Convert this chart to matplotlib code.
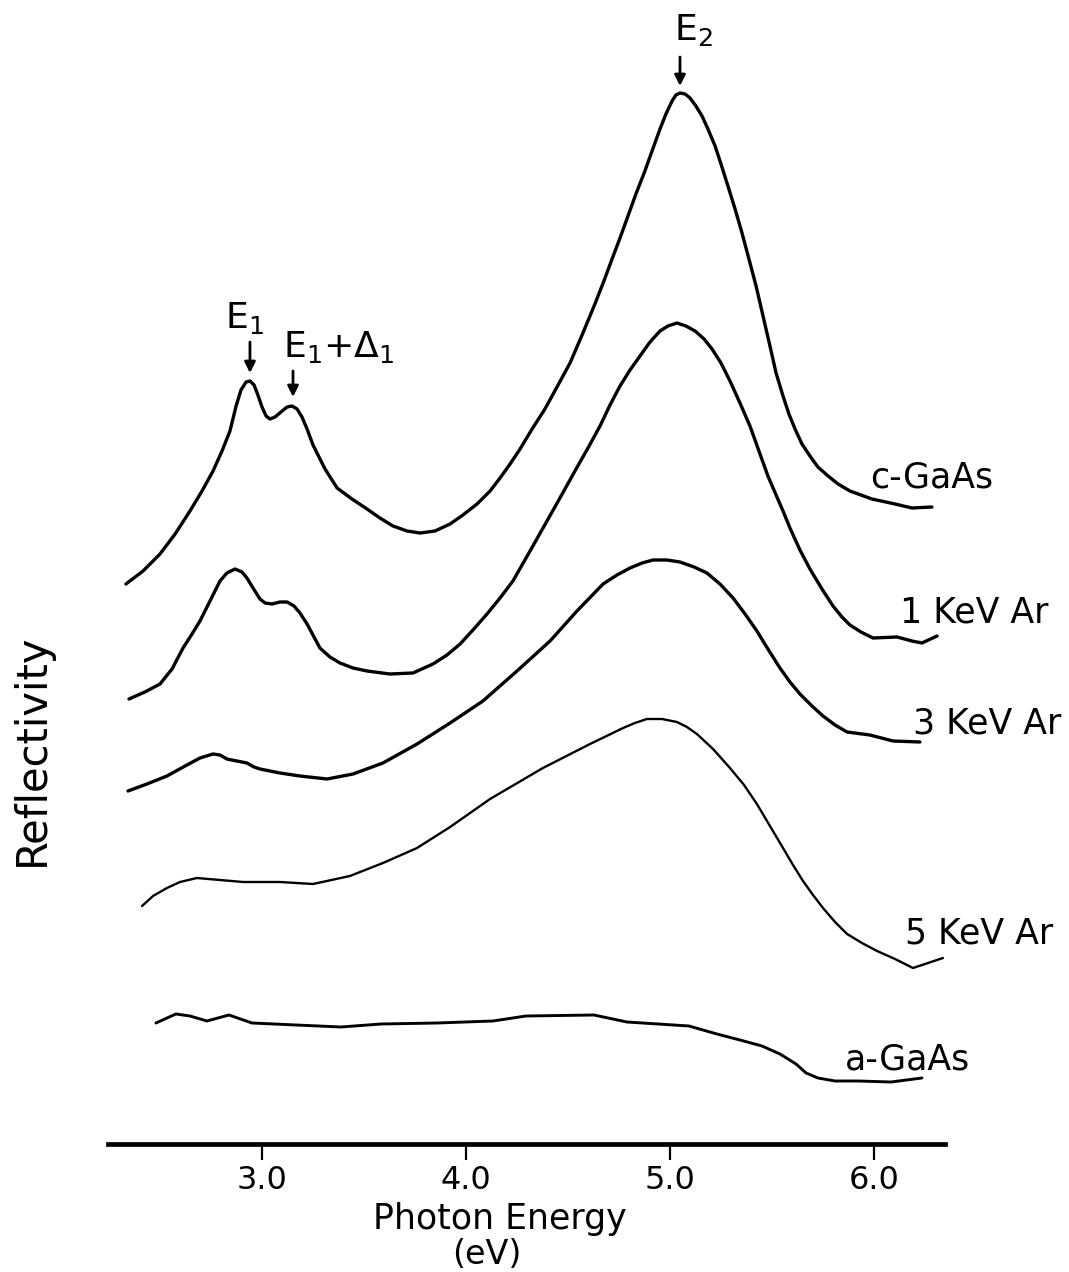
import matplotlib
matplotlib.use("Agg")
import matplotlib.pyplot as plt

plt.rcParams["font.family"] = ["DejaVu Sans"]
plt.rcParams["mathtext.default"] = "regular"

# Photon energy (eV) and reflectivity (arb. units, curves offset vertically)
c_gaas_e = [2.333, 2.417, 2.500, 2.574, 2.647, 2.706, 2.760, 2.804, 2.843, 2.873, 2.897, 2.922,
            2.941, 2.961, 2.980, 3.000, 3.020, 3.039, 3.064, 3.093, 3.123, 3.147, 3.172, 3.196,
            3.221, 3.250, 3.309, 3.368, 3.441, 3.515, 3.578, 3.642, 3.711, 3.775, 3.848, 3.922,
            3.985, 4.054, 4.118, 4.167, 4.216, 4.265, 4.324, 4.387, 4.446, 4.510, 4.569, 4.632,
            4.676, 4.716, 4.755, 4.794, 4.833, 4.877, 4.912, 4.951, 4.980, 5.010, 5.029, 5.049,
            5.074, 5.098, 5.127, 5.157, 5.186, 5.221, 5.250, 5.284, 5.319, 5.353, 5.387, 5.422,
            5.456, 5.490, 5.520, 5.554, 5.583, 5.613, 5.647, 5.686, 5.725, 5.775, 5.824, 5.882,
            5.990, 6.103, 6.186, 6.284]
c_gaas_r = [5.59, 5.72, 5.89, 6.09, 6.32, 6.52, 6.72, 6.92, 7.12, 7.37, 7.53, 7.61,
            7.62, 7.58, 7.48, 7.36, 7.27, 7.24, 7.26, 7.31, 7.36, 7.37, 7.34, 7.26,
            7.14, 6.98, 6.74, 6.55, 6.44, 6.34, 6.25, 6.17, 6.12, 6.10, 6.12, 6.19,
            6.28, 6.39, 6.52, 6.65, 6.79, 6.94, 7.14, 7.34, 7.56, 7.80, 8.08, 8.39,
            8.62, 8.84, 9.05, 9.27, 9.49, 9.72, 9.92, 10.14, 10.29, 10.42, 10.48, 10.50,
            10.49, 10.45, 10.37, 10.27, 10.14, 9.97, 9.79, 9.57, 9.34, 9.10, 8.84, 8.57,
            8.27, 7.97, 7.70, 7.47, 7.29, 7.14, 6.99, 6.87, 6.76, 6.67, 6.59, 6.52,
            6.44, 6.39, 6.35, 6.36]

kev1_e = [2.348, 2.426, 2.500, 2.559, 2.613, 2.657, 2.696, 2.745, 2.794, 2.828, 2.868, 2.902,
          2.926, 2.956, 2.990, 3.015, 3.049, 3.088, 3.123, 3.157, 3.186, 3.221, 3.255, 3.284,
          3.333, 3.382, 3.446, 3.515, 3.627, 3.740, 3.838, 3.907, 3.971, 4.034, 4.103, 4.167,
          4.230, 4.314, 4.397, 4.466, 4.534, 4.598, 4.657, 4.706, 4.755, 4.804, 4.853, 4.902,
          4.951, 4.990, 5.034, 5.078, 5.123, 5.167, 5.206, 5.250, 5.294, 5.343, 5.392, 5.436,
          5.480, 5.520, 5.554, 5.588, 5.637, 5.686, 5.745, 5.799, 5.843, 5.882, 5.936, 5.995,
          6.113, 6.186, 6.235, 6.309]
kev1_r = [4.44, 4.51, 4.59, 4.74, 4.95, 5.09, 5.22, 5.42, 5.62, 5.70, 5.74, 5.71,
          5.65, 5.55, 5.44, 5.40, 5.39, 5.41, 5.41, 5.37, 5.30, 5.19, 5.06, 4.95,
          4.86, 4.80, 4.75, 4.72, 4.69, 4.70, 4.79, 4.88, 4.99, 5.13, 5.29, 5.45,
          5.62, 5.92, 6.22, 6.47, 6.72, 6.95, 7.17, 7.38, 7.57, 7.73, 7.87, 8.01,
          8.12, 8.17, 8.20, 8.17, 8.12, 8.04, 7.94, 7.80, 7.62, 7.40, 7.17, 6.92,
          6.67, 6.48, 6.32, 6.15, 5.93, 5.74, 5.54, 5.37, 5.26, 5.18, 5.11, 5.05,
          5.06, 5.02, 5.00, 5.07]

kev3_e = [2.343, 2.436, 2.534, 2.623, 2.696, 2.760, 2.794, 2.828, 2.877, 2.926, 2.961, 2.990,
          3.088, 3.186, 3.319, 3.446, 3.593, 3.760, 3.922, 4.083, 4.250, 4.412, 4.544, 4.672,
          4.740, 4.804, 4.863, 4.917, 4.985, 5.049, 5.118, 5.181, 5.245, 5.309, 5.368, 5.426,
          5.480, 5.539, 5.588, 5.637, 5.696, 5.750, 5.809, 5.868, 5.980, 6.093, 6.225]
kev3_r = [3.52, 3.59, 3.67, 3.77, 3.85, 3.89, 3.88, 3.84, 3.82, 3.80, 3.76, 3.74,
          3.70, 3.67, 3.64, 3.69, 3.80, 3.99, 4.20, 4.42, 4.72, 5.02, 5.32, 5.59,
          5.68, 5.75, 5.80, 5.83, 5.83, 5.81, 5.76, 5.70, 5.59, 5.45, 5.29, 5.12,
          4.94, 4.75, 4.61, 4.49, 4.37, 4.27, 4.18, 4.11, 4.08, 4.02, 4.01]

kev5_e = [2.412, 2.466, 2.534, 2.598, 2.681, 2.794, 2.907, 3.088, 3.250, 3.431, 3.593, 3.760,
          3.922, 4.118, 4.377, 4.608, 4.770, 4.828, 4.887, 4.961, 5.034, 5.083, 5.132, 5.211,
          5.294, 5.363, 5.426, 5.490, 5.554, 5.603, 5.652, 5.701, 5.750, 5.809, 5.868, 5.941,
          6.015, 6.103, 6.191, 6.265, 6.338]
kev5_r = [2.37, 2.47, 2.55, 2.61, 2.65, 2.63, 2.61, 2.61, 2.59, 2.67, 2.80, 2.95,
          3.16, 3.44, 3.75, 3.99, 4.15, 4.20, 4.24, 4.24, 4.21, 4.16, 4.09, 3.94,
          3.75, 3.58, 3.39, 3.17, 2.95, 2.78, 2.62, 2.48, 2.35, 2.21, 2.09, 2.00,
          1.92, 1.84, 1.75, 1.80, 1.85]

a_gaas_e = [2.480, 2.578, 2.647, 2.730, 2.838, 2.951, 3.167, 3.387, 3.583, 3.858, 4.132, 4.294,
            4.627, 4.789, 5.093, 5.230, 5.343, 5.451, 5.539, 5.618, 5.667, 5.725, 5.809, 5.922,
            6.083, 6.235]
a_gaas_r = [1.20, 1.29, 1.27, 1.22, 1.28, 1.20, 1.18, 1.16, 1.19, 1.20, 1.22, 1.27,
            1.28, 1.21, 1.17, 1.09, 1.03, 0.97, 0.89, 0.79, 0.70, 0.65, 0.62, 0.62,
            0.61, 0.65]

tick_values = [3.0, 4.0, 5.0, 6.0]
tick_labels = ["3.0", "4.0", "5.0", "6.0"]

fig = plt.figure(figsize=(10.69, 12.72), dpi=100)
ax = fig.add_axes([0, 0, 1, 1])
ax.set_xlim(1.7157, 6.9559)
ax.set_ylim(-1.29, 11.43)
ax.patch.set_alpha(0)

for side in ("left", "right", "top"):
    ax.spines[side].set_visible(False)
ax.spines["bottom"].set_position(("data", -0.005))
ax.spines["bottom"].set_bounds(2.245, 6.35)
ax.spines["bottom"].set_linewidth(3.4)
ax.set_yticks([])
ax.set_xticks(tick_values)
ax.set_xticklabels(tick_labels, fontsize=23)
ax.tick_params(axis="x", direction="out", length=11.5, width=1.6, pad=4)

ink = "black"
style = dict(color=ink, solid_joinstyle="round", solid_capstyle="round")
ax.plot(c_gaas_e, c_gaas_r, lw=2.4, **style)
ax.plot(kev1_e, kev1_r, lw=2.4, **style)
ax.plot(kev3_e, kev3_r, lw=2.4, **style)
ax.plot(kev5_e, kev5_r, lw=1.7, **style)
ax.plot(a_gaas_e, a_gaas_r, lw=2.1, **style)

# curve labels
lab = dict(fontsize=25, ha="left", va="baseline", color=ink)
ax.text(5.980, 6.56, "c-GaAs", **lab)
ax.text(6.127, 5.20, "1 KeV Ar", **lab)
ax.text(6.191, 4.10, "3 KeV Ar", **lab)
ax.text(6.152, 2.00, "5 KeV Ar", **lab)
ax.text(5.858, 0.74, "a-GaAs", **lab)

# transition markers
arrow = dict(arrowstyle="-|>", color=ink, lw=2.0, mutation_scale=16, shrinkA=0, shrinkB=0)
ax.annotate("", xy=(2.941, 7.70), xytext=(2.941, 8.01), arrowprops=arrow)
ax.annotate("", xy=(3.152, 7.46), xytext=(3.152, 7.72), arrowprops=arrow)
ax.annotate("", xy=(5.049, 10.57), xytext=(5.049, 10.86), arrowprops=arrow)
ax.text(2.819, 8.15, r"E$_1$", fontsize=26, ha="left", va="baseline")
ax.text(3.103, 7.86, r"E$_1$+$\Delta_1$", fontsize=26, ha="left", va="baseline")
ax.text(5.020, 11.03, r"E$_2$", fontsize=26, ha="left", va="baseline")

# axis titles
ax.text(4.167, -0.86, "Photon Energy", fontsize=25, ha="center", va="baseline")
ax.text(4.103, -1.21, "(eV)", fontsize=24, ha="center", va="baseline")
ax.text(1.873, 3.93, "Reflectivity", fontsize=30, rotation=90, ha="center", va="center")

fig.savefig("out.png", dpi=100, facecolor="white")
